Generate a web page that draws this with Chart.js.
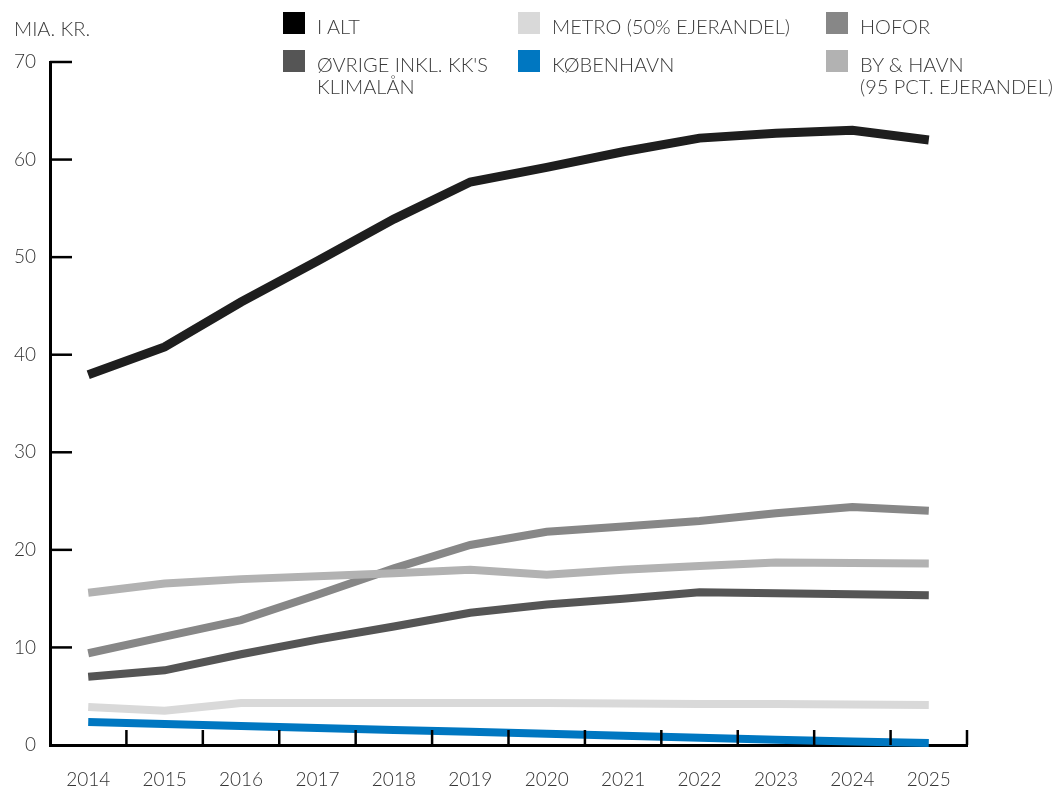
<!DOCTYPE html>
<html>
<head>
<meta charset="utf-8">
<script src="https://cdn.jsdelivr.net/npm/chart.js@4/dist/chart.umd.min.js"></script>
<style>
  html, body { margin: 0; padding: 0; background: #fff; }
  #wrap { position: relative; width: 1057px; height: 790px; font-family: Lato, "Open Sans", sans-serif; font-weight: 300; color: #3a3a3a; }
  #unit { position: absolute; left: 14px; top: 16px; font-size: 20px; }
  .leg { position: absolute; font-size: 20px; line-height: 22px; }
  .leg i { position: absolute; left: 0; top: 0; width: 22px; height: 22px; }
  .leg span { position: absolute; left: 34px; top: 3px; white-space: nowrap; }
</style>
</head>
<body>
<div id="wrap">
  <canvas id="lineChart" width="1057" height="790"></canvas>
  <div id="unit">MIA. KR.</div>
  <div id="legend"></div>
</div>
<script>
// Years on the x axis
const years = ['2014', '2015', '2016', '2017', '2018', '2019', '2020', '2021', '2022', '2023', '2024', '2025'];

// Series values (mia. kr.)
const iAlt = [37.95, 40.8, 45.4, 49.6, 53.9, 57.7, 59.2, 60.8, 62.2, 62.7, 63.0, 62.0];
const ovrige = [7.0, 7.65, 9.3, 10.8, 12.15, 13.55, 14.4, 15.0, 15.65, 15.55, 15.45, 15.35];
const metro = [3.9, 3.5, 4.3, 4.3, 4.3, 4.3, 4.3, 4.25, 4.2, 4.2, 4.15, 4.1];
const kobenhavn = [2.35, 2.15, 1.95, 1.75, 1.55, 1.35, 1.15, 0.95, 0.75, 0.55, 0.35, 0.2];
const hofor = [9.4, 11.1, 12.8, 15.4, 18.1, 20.5, 21.85, 22.4, 22.95, 23.75, 24.4, 24.0];
const byHavn = [15.6, 16.55, 17.0, 17.3, 17.6, 17.95, 17.45, 17.95, 18.35, 18.7, 18.65, 18.6];

// Y axis tick values
const yTicks = [0, 10, 20, 30, 40, 50, 60, 70];

// Legend entries: label lines, swatch colour, position
const legendItems = [
  { lines: ['I ALT'], color: '#000000', x: 283, y: 12 },
  { lines: ["ØVRIGE INKL. KK'S", 'KLIMALÅN'], color: '#555555', x: 283, y: 50 },
  { lines: ['METRO (50% EJERANDEL)'], color: '#d9d9d9', x: 518, y: 12 },
  { lines: ['KØBENHAVN'], color: '#0077c1', x: 518, y: 50 },
  { lines: ['HOFOR'], color: '#878787', x: 826, y: 12 },
  { lines: ['BY & HAVN', '(95 PCT. EJERANDEL)'], color: '#b2b2b2', x: 826, y: 50 },
];

function renderLegend() {
  const box = document.getElementById('legend');
  legendItems.forEach((item) => {
    const div = document.createElement('div');
    div.className = 'leg';
    div.style.left = item.x + 'px';
    div.style.top = item.y + 'px';
    div.innerHTML = `<i style="background:${item.color}"></i><span>${item.lines.join('<br>')}</span>`;
    box.appendChild(div);
  });
}

// Inward tick marks on both axes
const axisTicks = {
  id: 'axisTicks',
  afterDraw(chart) {
    const { ctx, chartArea, scales } = chart;
    ctx.save();
    ctx.strokeStyle = '#000';
    ctx.lineWidth = 2.5;
    yTicks.forEach((v) => {
      if (v === 0) return;
      const y = scales.y.getPixelForValue(v);
      ctx.beginPath();
      ctx.moveTo(chartArea.left, y);
      ctx.lineTo(chartArea.left + 22, y);
      ctx.stroke();
    });
    for (let i = 0; i < years.length; i++) {
      const x = scales.x.getPixelForValue(i + 0.5);
      ctx.beginPath();
      ctx.moveTo(x, chartArea.bottom);
      ctx.lineTo(x, chartArea.bottom - 15);
      ctx.stroke();
    }
    ctx.restore();
  },
};

function makeSet(label, data, color, order, width) {
  return {
    label,
    data,
    borderColor: color,
    backgroundColor: color,
    borderWidth: width,
    pointRadius: 0,
    tension: 0,
    fill: false,
    order,
    clip: false,
  };
}

document.addEventListener('DOMContentLoaded', () => {
  renderLegend();
  const ctx = document.getElementById('lineChart').getContext('2d');
  new Chart(ctx, {
    type: 'line',
    data: {
      labels: years,
      datasets: [
        makeSet('I ALT', iAlt, '#1e1e1e', 1, 9),
        makeSet("ØVRIGE INKL. KK'S KLIMALÅN", ovrige, '#555555', 3, 8),
        makeSet('METRO (50% EJERANDEL)', metro, '#d9d9d9', 5, 8),
        makeSet('KØBENHAVN', kobenhavn, '#0077c1', 0, 8),
        makeSet('HOFOR', hofor, '#878787', 4, 8),
        makeSet('BY & HAVN (95 PCT. EJERANDEL)', byHavn, '#b2b2b2', 2, 8),
      ],
    },
    options: {
      responsive: false,
      animation: false,
      layout: { padding: { top: 62, right: 90, left: 0, bottom: 0 } },
      plugins: { legend: { display: false }, tooltip: { enabled: false } },
      scales: {
        x: {
          offset: true,
          grid: { drawOnChartArea: false, drawTicks: false },
          border: { display: true, color: '#000', width: 3 },
          ticks: {
            padding: 23,
            color: '#333',
            font: { family: 'Lato, "Open Sans", sans-serif', size: 19, weight: 300 },
          },
          afterFit: (scale) => { scale.height = 45; },
        },
        y: {
          min: 0,
          max: 70,
          afterBuildTicks: (scale) => { scale.ticks = yTicks.map((v) => ({ value: v })); },
          grid: { drawOnChartArea: false, drawTicks: false },
          border: { display: true, color: '#000', width: 3 },
          ticks: {
            padding: 14,
            color: '#333',
            font: { family: 'Lato, "Open Sans", sans-serif', size: 19, weight: 300 },
          },
          afterFit: (scale) => { scale.width = 50; },
        },
      },
    },
    plugins: [axisTicks],
  });
});
</script>
</body>
</html>
